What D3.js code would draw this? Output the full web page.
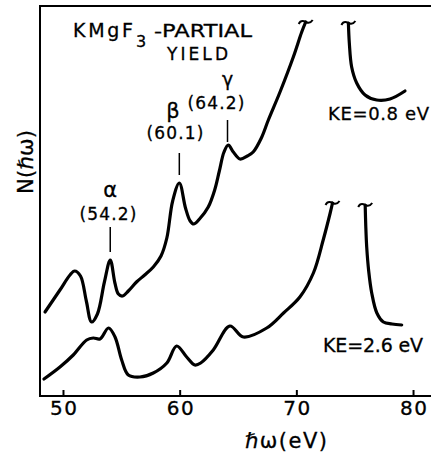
<!DOCTYPE html>
<html>
<head lang="en">
    <meta charset="UTF-8">
    <title></title>
    <script src="https://cdn.jsdelivr.net/npm/d3@7"></script>
    <style>
        body{margin:0;background:#fff;}
        text{font-family:"DejaVu Sans",sans-serif;fill:#000;stroke:#000;stroke-width:0.3px;}
        .curve{fill:none;stroke:#000;stroke-width:3.2px;stroke-linejoin:round;stroke-linecap:round;}
        .frame{stroke:#000;stroke-width:2px;fill:none;}
    </style>
</head>
<body>
<script>
    // KE=0.8 eV, part below the break
    var eUpperA=[48.46,49.74,50.6,51.0,51.5,52.0,52.45,52.95,53.55,54.05,54.45,54.75,55.1,55.6,56.3,57.0,57.74,58.4,58.9,59.4,59.97,60.5,60.9,61.2,61.7,62.45,63.0,63.4,63.8,64.17,64.6,65.17,65.8,66.3,67.0,67.6,68.6,69.74,70.46,70.8];
    var nUpperA=[84,106,121,125,120,95,74,82,114,136,113,102,100,105,114,121,129,140,158,195,213,188,175,172,177,189,206,225,244,251,244,237,240,244,258,276,304,339,364,374];
    // KE=0.8 eV, part after the break
    var eUpperB=[74.46,74.54,74.74,75.17,75.89,76.89,78.03,79.31];
    var nUpperB=[373,353,329,313,301,296,297,305];
    // KE=2.6 eV, part below the break
    var eLowerA=[48.37,49.74,50.88,52.03,52.6,53.17,53.9,54.46,55.03,55.6,56.6,57.74,58.9,59.74,60.6,61.3,61.8,62.88,64.3,65.46,67.46,68.9,70.3,71.46,72.3,72.9,73.1];
    var nLowerA=[17,29,41,56,58,57,68,59,36,21,19,23,33,50,39,31,33,46,70,59,68,83,99,123,156,183,193];
    // KE=2.6 eV, part after the break
    var eLowerB=[75.9,75.95,76.03,76.2,76.46,76.9,77.46,78.2,79.03];
    var nLowerB=[191,170,149,125,103,83,74,72,71];

    var xTicks=[50,60,70,80];
    var peakE=[54.05,59.97,64.1];
    var peakGreek=["α","β","γ"];
    var peakLabel=["(54.2)","(60.1)","(64.2)"];

    var x=d3.scaleLinear().domain([48.03,81.54]).range([40,431]);
    var y=d3.scaleLinear().domain([0,390]).range([396,6]);

    var svg=d3.select("body").append("svg")
            .attr("width",431)
            .attr("height",454);

    // frame: left, top and bottom lines only
    svg.append("path").attr("class","frame")
            .attr("d","M431,"+y(390)+"H"+x(48.03)+"V"+y(0)+"H431");

    var axis=d3.axisBottom(x).tickValues(xTicks)
            .tickSizeInner(-6).tickSizeOuter(0).tickPadding(5)
            .tickFormat(d3.format("d"));
    var gx=svg.append("g").attr("transform","translate(0,"+y(0)+")").call(axis);
    gx.select(".domain").remove();
    gx.selectAll(".tick line").attr("stroke","#000").attr("stroke-width",2);
    gx.selectAll(".tick text").attr("font-size",20).attr("font-family","DejaVu Sans")
            .attr("fill","#000").attr("textLength",27).attr("lengthAdjust","spacing");

    var line=d3.line()
            .x(function(d){return x(d[0]);})
            .y(function(d){return y(d[1]);})
            .curve(d3.curveCatmullRom.alpha(0.5));

    var parts=[[eUpperA,nUpperA],[eUpperB,nUpperB],[eLowerA,nLowerA],[eLowerB,nLowerB]];
    parts.forEach(function(p){
        var pts=p[0].map(function(e,i){return [e,p[1][i]];});
        svg.append("path").attr("class","curve").attr("d",line(pts));
    });

    // break marks at the top of each part
    var breakAt=[[eUpperA,nUpperA,"end"],[eUpperB,nUpperB,"start"],[eLowerA,nLowerA,"end"],[eLowerB,nLowerB,"start"]];
    breakAt.forEach(function(b){
        var i=b[2]=="end"?b[0].length-1:0;
        var px=x(b[0][i]), py=y(b[1][i]);
        var pa=d3.path();
        pa.moveTo(px-7,py+2);
        pa.bezierCurveTo(px-5,py-2,px-2,py-1,px,py);
        pa.bezierCurveTo(px+2,py+1,px+5,py+1,px+7,py-2);
        svg.append("path").attr("d",pa.toString())
                .style("fill","none").style("stroke","#000").style("stroke-width",2);
    });

    // peak labels
    var greekY=[197,118,86], greekSize=[21,21,19], numY=[220,139,109], numX=[108,175,216];
    var lineY=[[227,252],[153,175],[120,142]];
    peakE.forEach(function(e,i){
        svg.append("line").attr("x1",x(e)).attr("x2",x(e))
                .attr("y1",lineY[i][0]).attr("y2",lineY[i][1])
                .style("stroke","#000").style("stroke-width",1.5);
        svg.append("text").attr("x",i==1?173:x(e)).attr("y",greekY[i])
                .attr("text-anchor","middle").attr("font-size",greekSize[i]).text(peakGreek[i]);
        svg.append("text").attr("x",numX[i]).attr("y",numY[i])
                .attr("text-anchor","middle").attr("font-size",17)
                .attr("textLength",57).attr("lengthAdjust","spacing").text(peakLabel[i]);
    });

    // title
    svg.append("text").attr("x",73).attr("y",37).attr("font-size",19)
            .attr("textLength",60).attr("lengthAdjust","spacing").text("KMgF");
    svg.append("text").attr("x",136).attr("y",47).attr("font-size",16).text("3");
    svg.append("text").attr("x",154).attr("y",37).attr("font-size",17)
            .attr("textLength",98).attr("lengthAdjust","spacingAndGlyphs").text("-PARTIAL");
    svg.append("text").attr("x",167).attr("y",60).attr("font-size",17)
            .attr("textLength",61).attr("lengthAdjust","spacing").text("YIELD");

    svg.append("text").attr("x",328).attr("y",120).attr("font-size",18)
            .attr("textLength",101).attr("lengthAdjust","spacing").text("KE=0.8 eV");
    svg.append("text").attr("x",323).attr("y",352).attr("font-size",19)
            .attr("textLength",100).attr("lengthAdjust","spacing").text("KE=2.6 eV");

    // axis titles
    svg.append("text").attr("x",286).attr("y",448).attr("text-anchor","middle")
            .attr("font-size",21).attr("textLength",82).attr("lengthAdjust","spacing").text("ℏω(eV)");
    svg.append("text").attr("transform","translate(33,162) rotate(-90)")
            .attr("text-anchor","middle").attr("font-size",21)
            .attr("textLength",64).attr("lengthAdjust","spacing").text("N(ℏω)");
</script>
</body>
</html>
